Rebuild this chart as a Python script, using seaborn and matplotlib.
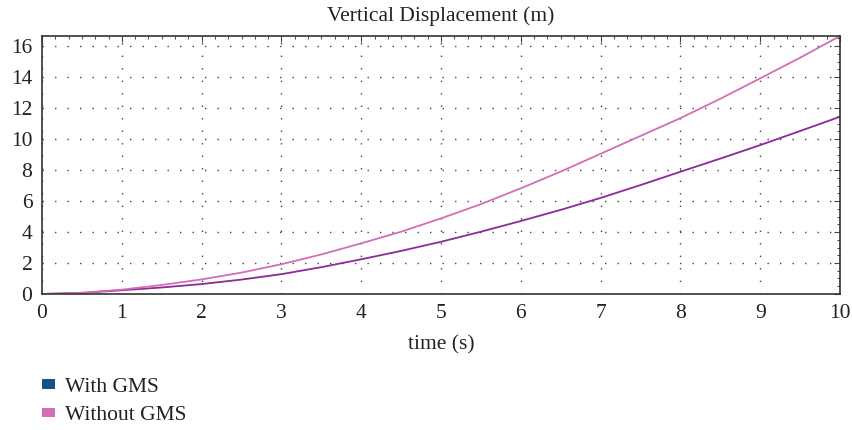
import numpy as np
import pandas as pd
import seaborn as sns
import matplotlib
matplotlib.use("Agg")
import matplotlib.pyplot as plt
from matplotlib.patches import Patch
from matplotlib.ticker import AutoMinorLocator, MultipleLocator

time_s = [0, 0.5, 1, 1.5, 2, 2.5, 3, 3.5, 4, 4.5, 5, 5.5, 6, 6.5, 7, 7.5, 8, 8.5, 9, 9.5, 10]
with_gms = [0, 0.07, 0.24, 0.42, 0.64, 0.93, 1.28, 1.73, 2.24, 2.78, 3.37, 4.02, 4.71,
            5.43, 6.20, 7.03, 7.89, 8.74, 9.61, 10.52, 11.44]
without_gms = [0, 0.08, 0.28, 0.58, 0.94, 1.38, 1.92, 2.55, 3.27, 4.02, 4.88, 5.80, 6.82,
               7.90, 9.05, 10.20, 11.35, 12.60, 13.92, 15.25, 16.65]
series_names = ["With GMS", "Without GMS"]
line_colors = ["#8b2a98", "#d46db6"]
legend_colors = ["#1b4f8a", "#d46db6"]

df = pd.DataFrame({
    "time": time_s * 2,
    "value": with_gms + without_gms,
    "series": [series_names[0]] * len(time_s) + [series_names[1]] * len(time_s),
})

sns.set_theme(style="white")
plt.rcParams["font.family"] = ["Liberation Serif", "DejaVu Serif"]

fig = plt.figure(figsize=(8.52, 4.30), dpi=100)
ax = fig.add_axes([0.0493, 0.3163, 0.9367, 0.60])

sns.lineplot(data=df, x="time", y="value", hue="series", palette=dict(zip(series_names, line_colors)),
             linewidth=1.3, ax=ax, legend=False)

ax.set_xlim(0, 10)
ax.set_ylim(0, 16.65)
ax.xaxis.set_major_locator(MultipleLocator(1))
ax.yaxis.set_major_locator(MultipleLocator(2))
ax.xaxis.set_minor_locator(AutoMinorLocator(6))
ax.yaxis.set_minor_locator(AutoMinorLocator(4))
ax.grid(True, which="major", color="#444444", linestyle=(0, (1, 8)), linewidth=1.0)
ax.tick_params(axis="both", which="major", direction="in", length=4, width=0.8, color="#444444",
               top=True, right=True, labelsize=15.5, labelcolor="#222222")
ax.tick_params(axis="x", which="major", pad=7)
ax.tick_params(axis="y", which="major", pad=7)
ax.tick_params(axis="both", which="minor", direction="in", length=2.5, width=0.7, color="#444444",
               top=True, right=True)
for sp in ax.spines.values():
    sp.set_color("#333333")
    sp.set_linewidth(1.2)

ax.set_xlabel("time (s)", fontsize=15.5, color="#222222", labelpad=9)
ax.set_ylabel("")
ax.set_title("Vertical Displacement (m)", fontsize=15.5, color="#222222", pad=11)

handles = [Patch(facecolor=c, edgecolor="none") for c in legend_colors]
fig.legend(handles, series_names, loc="upper left", bbox_to_anchor=(0.027, 0.167),
           frameon=False, fontsize=15.5, handlelength=0.6, handleheight=0.3,
           handletextpad=0.45, labelspacing=0.45, labelcolor="#222222")

fig.savefig("out.png", dpi=100)
